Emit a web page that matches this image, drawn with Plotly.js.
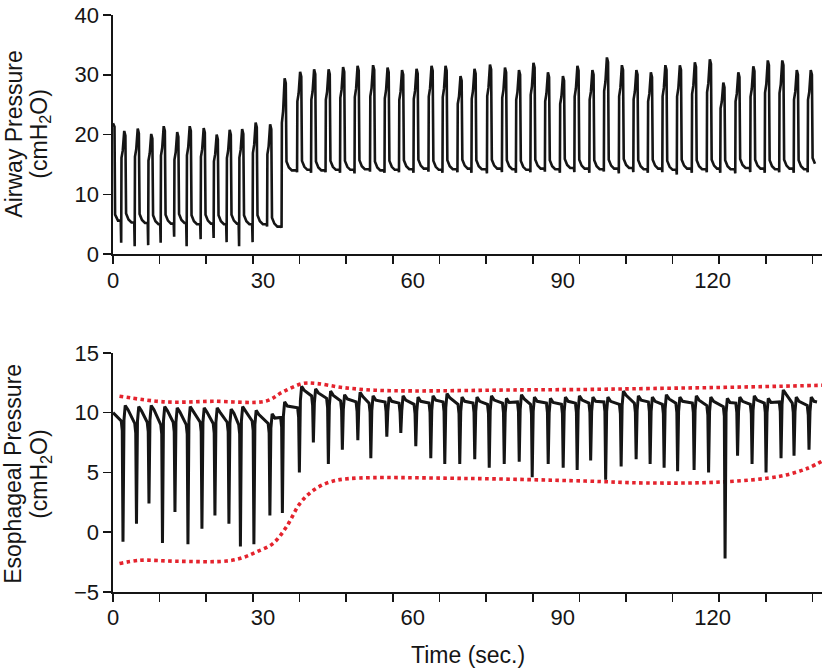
<!DOCTYPE html>
<html><head><meta charset="utf-8">
<script src="https://cdn.plot.ly/plotly-3.0.1.min.js"></script>
<style>html,body{margin:0;padding:0;background:#fff}#chart{width:828px;height:669px}</style>
</head><body><div id="chart"></div>
<script>
// ---------- Data ----------
// Airway pressure: one entry per delivered breath
const airwayPeakTime = [2.3, 5.0, 7.7, 10.2, 12.9, 15.4, 18.2, 20.8, 23.4, 25.9, 28.6, 31.5,
  34.4, 37.5, 40.3, 43.2, 46.1, 49.0, 52.1, 55.0, 57.9, 60.8, 63.8, 66.6, 69.6, 72.4, 75.5,
  78.5, 81.3, 84.2, 87.1, 90.1, 93.0, 96.0, 98.9, 101.9, 104.8, 107.7, 110.6, 113.5, 116.5,
  119.5, 122.2, 125.2, 128.2, 131.1, 134.0, 136.9, 139.7];
const airwayPeak = [20.6, 21.0, 20.1, 21.4, 20.4, 21.4, 21.1, 20.0, 20.8, 20.9, 22.0, 21.7,
  29.4, 30.5, 30.9, 30.9, 31.3,
  31.5, 31.6, 31.2, 30.8, 31.0, 31.5, 31.5, 29.8, 31.0, 31.7, 31.2, 30.8, 32.0, 30.4, 29.8, 31.5,
  30.8, 32.9, 31.6, 30.8, 30.4, 31.6, 31.6, 32.1, 32.6, 28.7, 30.4, 31.4, 32.4, 32.4, 30.8, 30.8];
const airwayBase = [5.3, 5.2, 5.0, 5.1, 5.2, 5.0, 5.1, 5.0, 5.1, 5.0, 5.0, 4.6,
  14.0, 14.1, 14.0, 14.1, 14.1, 14.2, 14.0, 14.1, 14.2, 14.3,
  14.1, 14.2, 14.3, 14.2, 14.3, 14.2, 14.1, 14.3, 14.2, 14.4,
  14.3, 14.2, 14.3, 14.4, 14.2, 14.3, 14.1, 14.3, 14.2, 14.3,
  14.2, 14.4, 14.3, 14.2, 14.3, 14.2, 14.6];
const airwayDip = [1.9, 1.3, 1.5, 1.9, 2.9, 1.3, 2.5, 2.7, 2.0, 1.3, 2.0, 4.6,
  4.4, 13.7, 13.6, 13.7, 13.6, 13.5, 13.8, 13.6, 13.7, 13.6,
  13.8, 13.6, 13.7, 13.6, 13.5, 13.7, 13.6, 13.7, 13.8,
  13.6, 13.7, 13.6, 13.8, 13.5, 13.7, 13.6, 13.7, 13.3,
  13.6, 13.7, 13.6, 13.5, 13.7, 13.6, 13.7, 13.6, 13.7];
const airwayLeadT = [0, 0.3, 0.42, 1.0];
const airwayLeadP = [21.9, 21.3, 6.6, 5.6];

// Esophageal pressure: one entry per inspiratory effort
const esoSpikeTime = [2.0, 4.7, 7.2, 9.9, 12.4, 15.0, 17.8, 20.4, 23.2, 25.5, 28.2, 31.4, 33.9,
  37.3, 40.1, 43.1, 45.9, 49.0, 51.6, 54.8, 57.6, 60.6, 63.6, 66.4, 69.4, 72.4, 75.3, 78.3,
  81.3, 83.9, 87.1, 90.1, 92.9, 95.6, 98.6, 101.7, 104.7, 107.5, 110.3, 113.0, 116.3, 119.2,
  122.5, 125.0, 127.9, 130.7, 133.7, 136.3, 139.3];
const esoSpike = [-0.8, 0.7, 2.4, -0.9, 1.7, -1.0, 0.3, 1.4, 0.7, -1.2, -1.0, 1.4, 1.6,
  5.0, 7.5, 5.7, 6.9,
  7.7, 6.2, 8.0, 8.3, 7.2, 6.2, 5.7, 5.7, 6.1, 5.4, 5.7, 5.9, 4.6, 5.7, 5.4, 5.2,
  6.0, 4.4, 5.5, 6.1, 5.7, 5.4, 5.1, 5.2, 5.0, -2.2, 6.4, 5.7, 5.0, 6.2, 6.4, 6.9];
const esoPre = [9.3, 9.1, 9.2, 9.0, 9.2, 9.0, 9.2, 9.1, 9.2, 9.0, 9.3, 9.1, 9.6,
  10.4, 11.4, 11.2, 11.0,
  10.9, 10.8, 10.9, 10.8, 10.7, 10.8, 10.9, 10.7, 10.8, 10.7, 10.8, 10.9, 10.7, 10.8, 10.7, 10.8,
  10.8, 10.9, 10.7, 10.8, 10.9, 10.7, 10.8, 10.8, 10.6, 10.5, 10.8, 10.7, 10.8, 10.9, 10.8, 10.6];
const esoPost = [10.6, 10.5, 10.6, 10.5, 10.4, 10.5, 10.4, 10.4, 10.3, 10.5, 10.2, 9.9, 10.9,
  12.2, 12.0, 11.8, 11.5,
  11.7, 11.4, 11.3, 11.4, 11.3, 11.4, 11.6, 11.3, 11.3, 11.4, 11.2, 11.5, 11.3, 11.2, 11.3, 11.4,
  11.3, 11.3, 11.8, 11.4, 11.3, 11.5, 11.3, 11.4, 11.3, 11.2, 11.3, 11.4, 11.2, 11.9, 11.3, 11.3];
const esoLeadT = [0, 0.8];
const esoLeadP = [10.0, 9.7];
const esoTailT = [140.9];
const esoTailP = [10.9];

// Red dotted envelopes on the esophageal panel
const upperEnvT = [1.3, 10.4, 20, 30.7, 34.0, 38.0, 40.7, 46.0, 52.4, 59.8, 70, 80, 94.5, 104.2, 120.2, 133.5, 142.5];
const upperEnvP = [11.38, 10.9, 10.95, 10.98, 11.74, 12.44, 12.44, 12.1, 11.88, 11.82, 11.85, 11.9, 11.94, 12.0, 12.1, 12.21, 12.3];
const lowerEnvT = [1.3, 5.4, 12.7, 22.7, 26.0, 28.7, 32.0, 34.7, 37.4, 40.1, 43.4, 47.4, 70, 94.5, 106.8, 121.5, 133.5, 138.9, 142.5];
const lowerEnvP = [-2.62, -2.35, -2.43, -2.41, -2.12, -1.65, -0.95, 0.44, 2.4, 3.51, 4.2, 4.49, 4.5, 4.28, 4.12, 4.2, 4.68, 5.33, 6.08];

// Axis ticks
const xTickMarks = [0, 9.333, 18.667, 28, 37.333, 46.667, 56, 65.333, 74.667, 84, 93.333, 102.667, 112, 121.333, 130.667, 140];
const xTickLabels = [0, 30, 60, 90, 120];
const airwayTicks = [0, 10, 20, 30, 40];
const esoTicks = [-5, 0, 5, 10, 15];

// ---------- Build waveform polylines from the per-breath values ----------
function buildAirway() {
  const x = airwayLeadT.slice(), y = airwayLeadP.slice();
  let prev = airwayLeadP[airwayLeadP.length - 1];
  for (let i = 0; i < airwayPeakTime.length; i++) {
    const tp = airwayPeakTime[i], pk = airwayPeak[i], b = airwayBase[i], d = airwayDip[i];
    const amp = pk - prev;
    const pts = [
      [tp - 0.75, prev], [tp - 0.66, d], [tp - 0.6, prev + 0.7 * amp], [tp - 0.35, prev + 0.78 * amp],
      [tp - 0.05, pk], [tp + 0.18, pk - 0.8], [tp + 0.32, b + 1.5], [tp + 0.8, b + 0.5], [tp + 1.4, b]
    ];
    pts.forEach(p => { if (p[0] <= 140.9) { x.push(p[0]); y.push(p[1]); } });
    prev = b;
  }
  return {x, y};
}
function buildEso() {
  const x = esoLeadT.slice(), y = esoLeadP.slice();
  for (let i = 0; i < esoSpikeTime.length; i++) {
    const ts = esoSpikeTime[i], sp = esoSpike[i], pre = esoPre[i], post = esoPost[i];
    const pts = [
      [ts - 0.35, pre], [ts - 0.15, pre - 0.8], [ts, sp], [ts + 0.2, post - 1.2],
      [ts + 0.45, post], [ts + 1.0, post - 0.35]
    ];
    pts.forEach(p => { if (p[0] <= 140.9) { x.push(p[0]); y.push(p[1]); } });
  }
  esoTailT.forEach((t, k) => { x.push(t); y.push(esoTailP[k]); });
  return {x, y};
}
const aw = buildAirway();
const es = buildEso();

const FONT = 'Liberation Sans, Arial, Helvetica, sans-serif';
const INK = '#151515';
const RED = 'rgb(228,35,45)';

const traces = [
  {x: aw.x, y: aw.y, xaxis: 'x', yaxis: 'y', mode: 'lines', line: {color: INK, width: 2.6}, hoverinfo: 'skip'},
  {x: upperEnvT, y: upperEnvP, xaxis: 'x2', yaxis: 'y2', mode: 'lines', line: {color: RED, width: 3.6, dash: '3.6px,3.4px', shape: 'spline', smoothing: 1}, hoverinfo: 'skip'},
  {x: lowerEnvT, y: lowerEnvP, xaxis: 'x2', yaxis: 'y2', mode: 'lines', line: {color: RED, width: 3.6, dash: '3.6px,3.4px', shape: 'spline', smoothing: 1}, hoverinfo: 'skip'},
  {x: es.x, y: es.y, xaxis: 'x2', yaxis: 'y2', mode: 'lines', line: {color: INK, width: 3.0}, hoverinfo: 'skip'},
  {x: [0], y: [0], xaxis: 'x3', yaxis: 'y', mode: 'markers', marker: {opacity: 0}, hoverinfo: 'skip'},
  {x: [0], y: [0], xaxis: 'x4', yaxis: 'y2', mode: 'markers', marker: {opacity: 0}, hoverinfo: 'skip'}
];

const tickAxis = (anchor) => ({
  anchor: anchor, range: [0, 141.9], showline: true, linecolor: INK, linewidth: 1.6,
  ticks: 'outside', tickvals: xTickMarks, ticklen: 8, tickwidth: 1.6, tickcolor: INK,
  showticklabels: false, showgrid: false, zeroline: false, fixedrange: true
});
const labelAxis = (over, anchor) => ({
  overlaying: over, anchor: anchor, range: [0, 141.9], showline: false,
  ticks: 'outside', ticklen: 6, tickcolor: 'rgba(0,0,0,0)', tickvals: xTickLabels,
  ticktext: xTickLabels.map(String), ticklabelstandoff: 0,
  tickfont: {family: FONT, size: 22, color: INK}, showgrid: false, zeroline: false, fixedrange: true
});
const yAxis = (dom, rng, vals, anchor) => ({
  domain: dom, anchor: anchor, range: rng, tickvals: vals, showline: true, linecolor: INK,
  linewidth: 1.6, ticks: 'outside', ticklen: 8, tickwidth: 1.6, tickcolor: INK,
  tickfont: {family: FONT, size: 22, color: INK}, showgrid: false, zeroline: false, fixedrange: true
});

const titleFont = {family: FONT, size: 23, color: INK};
const layout = {
  width: 828, height: 669, margin: {l: 113.3, r: 6.3, t: 15, b: 77.3},
  paper_bgcolor: '#fff', plot_bgcolor: '#fff', showlegend: false, hovermode: false,
  font: {family: FONT, color: INK},
  xaxis: tickAxis('y'),
  xaxis2: tickAxis('y2'),
  xaxis3: labelAxis('x', 'y'),
  xaxis4: labelAxis('x2', 'y2'),
  yaxis: yAxis([0.5856, 1], [0, 40], airwayTicks, 'x'),
  yaxis2: yAxis([0, 0.4144], [-5, 15], esoTicks, 'x2'),
  annotations: [
    {text: 'Airway Pressure', xref: 'paper', yref: 'paper', x: -0.1402, y: 0.7937, textangle: -90, showarrow: false, xanchor: 'center', yanchor: 'middle', font: titleFont},
    {text: '(cmH<sub>2</sub>O)', xref: 'paper', yref: 'paper', x: -0.1035, y: 0.7937, textangle: -90, showarrow: false, xanchor: 'center', yanchor: 'middle', font: titleFont},
    {text: 'Esophageal Pressure', xref: 'paper', yref: 'paper', x: -0.1402, y: 0.2041, textangle: -90, showarrow: false, xanchor: 'center', yanchor: 'middle', font: titleFont},
    {text: '(cmH<sub>2</sub>O)', xref: 'paper', yref: 'paper', x: -0.1021, y: 0.2041, textangle: -90, showarrow: false, xanchor: 'center', yanchor: 'middle', font: titleFont},
    {text: 'Time (sec.)', xref: 'paper', yref: 'paper', x: 0.5, y: -0.1098, showarrow: false, xanchor: 'center', yanchor: 'middle', font: titleFont}
  ]
};

Plotly.newPlot('chart', traces, layout, {staticPlot: true, displayModeBar: false});
</script></body></html>
